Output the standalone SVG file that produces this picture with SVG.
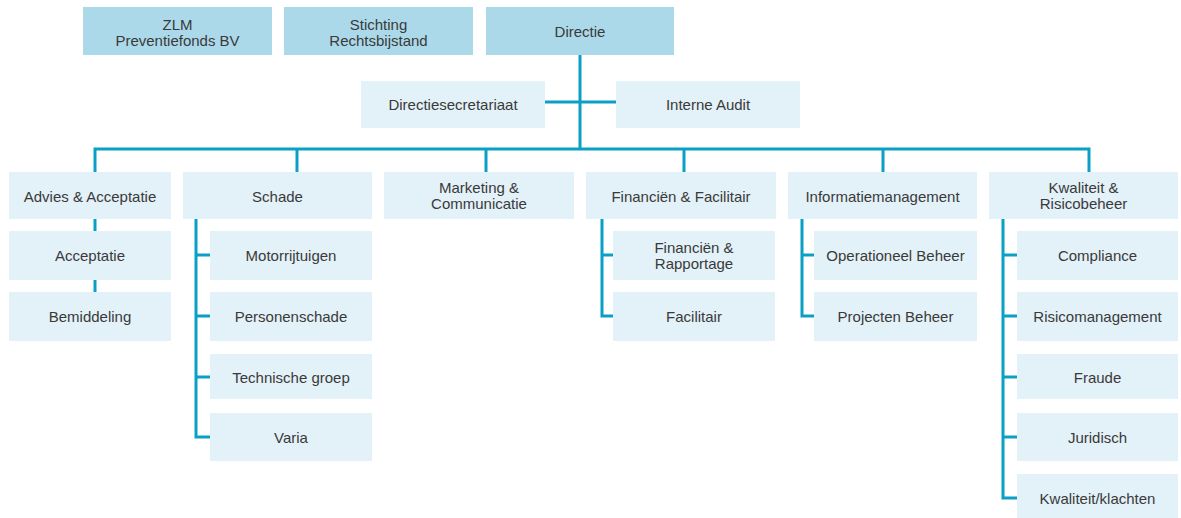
<svg xmlns="http://www.w3.org/2000/svg" width="1181" height="518" viewBox="0 0 1181 518">
<style>
.d{fill:#acd9ea}
.l{fill:#e3f1f8}
.t{font-family:"Liberation Sans",Arial,sans-serif;font-size:15px;fill:#3a3a3a;text-anchor:middle}
.c{fill:none;stroke:#0aa0c6;stroke-width:3}
</style>
<rect width="1181" height="518" fill="#ffffff"/>
<g id="connectors">
<path class="c" d="M580 55V149M545 102H616M95 172V149H1089V172M297 149V172M486 149V172M684 149V172M883 149V172"/>
<path class="c" d="M95 219V231M95 280V292"/>
<path class="c" d="M196 219V437H210M196 255H210M196 316H210M196 377H210"/>
<path class="c" d="M602 219V316H613M602 255H613"/>
<path class="c" d="M802 219V316H814M802 255H814"/>
<path class="c" d="M1003 219V498H1017M1003 255H1017M1003 316H1017M1003 377H1017M1003 437H1017"/>
</g>
<g id="zlm"><rect class="d" x="83" y="7" width="189" height="48"/><text class="t" x="177.5" y="30">ZLM</text><text class="t" x="177.5" y="46">Preventiefonds BV</text></g>
<g id="stichting"><rect class="d" x="284" y="7" width="189" height="48"/><text class="t" x="378.5" y="30">Stichting</text><text class="t" x="378.5" y="46">Rechtsbijstand</text></g>
<g id="directie"><rect class="d" x="486" y="7" width="188" height="48"/><text class="t" x="580" y="37">Directie</text></g>
<g id="directiesecretariaat"><rect class="l" x="361" y="81" width="184" height="47"/><text class="t" x="453" y="110">Directiesecretariaat</text></g>
<g id="interne-audit"><rect class="l" x="616" y="81" width="184" height="47"/><text class="t" x="708" y="110">Interne Audit</text></g>
<g id="advies"><rect class="l" x="9" y="172" width="162" height="47"/><text class="t" x="90" y="201.5">Advies &amp; Acceptatie</text></g>
<g id="acceptatie"><rect class="l" x="9" y="231" width="162" height="49"/><text class="t" x="90" y="261">Acceptatie</text></g>
<g id="bemiddeling"><rect class="l" x="9" y="292" width="162" height="49"/><text class="t" x="90" y="322">Bemiddeling</text></g>
<g id="schade"><rect class="l" x="183" y="172" width="189" height="47"/><text class="t" x="277.5" y="201.5">Schade</text></g>
<g id="motorrijtuigen"><rect class="l" x="210" y="231" width="162" height="49"/><text class="t" x="291" y="261">Motorrijtuigen</text></g>
<g id="personenschade"><rect class="l" x="210" y="292" width="162" height="49"/><text class="t" x="291" y="322">Personenschade</text></g>
<g id="technische-groep"><rect class="l" x="210" y="354" width="162" height="45"/><text class="t" x="291" y="382.5">Technische groep</text></g>
<g id="varia"><rect class="l" x="210" y="413" width="162" height="48"/><text class="t" x="291" y="443">Varia</text></g>
<g id="marketing"><rect class="l" x="384" y="172" width="190" height="47"/><text class="t" x="479" y="193">Marketing &amp;</text><text class="t" x="479" y="208.5">Communicatie</text></g>
<g id="financien"><rect class="l" x="586" y="172" width="190" height="47"/><text class="t" x="681" y="201.5">Financiën &amp; Facilitair</text></g>
<g id="financien-rapportage"><rect class="l" x="613" y="231" width="162" height="49"/><text class="t" x="694" y="253">Financiën &amp;</text><text class="t" x="694" y="268.5">Rapportage</text></g>
<g id="facilitair"><rect class="l" x="613" y="292" width="162" height="49"/><text class="t" x="694" y="322">Facilitair</text></g>
<g id="informatiemanagement"><rect class="l" x="788" y="172" width="189" height="47"/><text class="t" x="882.5" y="201.5">Informatiemanagement</text></g>
<g id="operationeel-beheer"><rect class="l" x="814" y="231" width="163" height="49"/><text class="t" x="895.5" y="261">Operationeel Beheer</text></g>
<g id="projecten-beheer"><rect class="l" x="814" y="292" width="163" height="49"/><text class="t" x="895.5" y="322">Projecten Beheer</text></g>
<g id="kwaliteit"><rect class="l" x="989" y="172" width="189" height="47"/><text class="t" x="1083.5" y="193">Kwaliteit &amp;</text><text class="t" x="1083.5" y="208.5">Risicobeheer</text></g>
<g id="compliance"><rect class="l" x="1017" y="231" width="161" height="49"/><text class="t" x="1097.5" y="261">Compliance</text></g>
<g id="risicomanagement"><rect class="l" x="1017" y="292" width="161" height="49"/><text class="t" x="1097.5" y="322">Risicomanagement</text></g>
<g id="fraude"><rect class="l" x="1017" y="354" width="161" height="45"/><text class="t" x="1097.5" y="382.5">Fraude</text></g>
<g id="juridisch"><rect class="l" x="1017" y="413" width="161" height="48"/><text class="t" x="1097.5" y="443">Juridisch</text></g>
<g id="kwaliteit-klachten"><rect class="l" x="1017" y="474" width="161" height="44"/><text class="t" x="1097.5" y="504">Kwaliteit/klachten</text></g>
</svg>
